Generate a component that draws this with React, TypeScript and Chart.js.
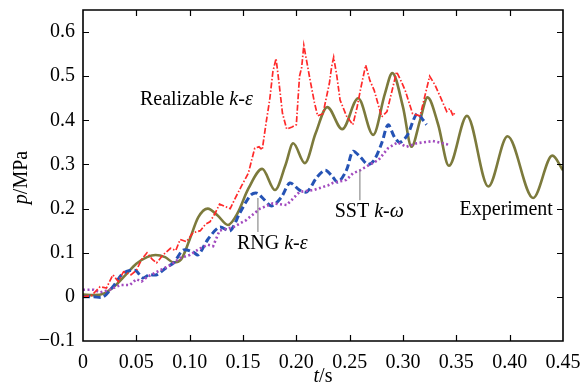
import React, { useEffect, useRef } from 'react';
import { Chart, registerables } from 'chart.js';

Chart.register(...registerables);

const xTicks = [0, 0.05, 0.1, 0.15, 0.2, 0.25, 0.3, 0.35, 0.4, 0.45];
const yTicks = [-0.1, 0, 0.1, 0.2, 0.3, 0.4, 0.5, 0.6];

const expT = [0, 0.01, 0.02, 0.03, 0.04, 0.05, 0.06, 0.068, 0.077, 0.085, 0.092, 0.1, 0.108, 0.117, 0.126, 0.136, 0.145, 0.155, 0.168, 0.18, 0.19, 0.197, 0.208, 0.218, 0.229, 0.243, 0.258, 0.272, 0.283, 0.29, 0.3, 0.308, 0.316, 0.323, 0.333, 0.343, 0.36, 0.38, 0.398, 0.422, 0.44, 0.45];
const expP = [0.005, 0.004, 0.008, 0.025, 0.05, 0.075, 0.09, 0.095, 0.09, 0.078, 0.085, 0.13, 0.18, 0.2, 0.185, 0.163, 0.19, 0.245, 0.29, 0.242, 0.3, 0.348, 0.303, 0.37, 0.43, 0.38, 0.45, 0.367, 0.46, 0.507, 0.43, 0.34, 0.4, 0.452, 0.39, 0.297, 0.41, 0.25, 0.364, 0.224, 0.32, 0.287];

const rkeT = [0, 0.008, 0.016, 0.022, 0.028, 0.033, 0.038, 0.045, 0.05, 0.055, 0.06, 0.065, 0.069, 0.075, 0.082, 0.087, 0.091, 0.097, 0.103, 0.11, 0.115, 0.119, 0.124, 0.128, 0.133, 0.138, 0.143, 0.149, 0.155, 0.161, 0.165, 0.168, 0.172, 0.175, 0.178, 0.181, 0.184, 0.187, 0.191, 0.196, 0.2, 0.203, 0.205, 0.207, 0.21, 0.213, 0.217, 0.22, 0.225, 0.228, 0.231, 0.233, 0.235, 0.238, 0.241, 0.247, 0.253, 0.257, 0.26, 0.265, 0.269, 0.273, 0.28, 0.285, 0.29, 0.294, 0.298, 0.302, 0.309, 0.316, 0.321, 0.325, 0.33, 0.335, 0.341, 0.344, 0.347, 0.349];
const rkeP = [0, 0.003, 0.023, 0.02, 0.05, 0.035, 0.057, 0.05, 0.06, 0.085, 0.1, 0.085, 0.077, 0.095, 0.11, 0.105, 0.13, 0.125, 0.145, 0.15, 0.165, 0.17, 0.19, 0.21, 0.205, 0.2, 0.225, 0.253, 0.28, 0.337, 0.34, 0.333, 0.4, 0.446, 0.51, 0.54, 0.48, 0.416, 0.38, 0.385, 0.39, 0.5, 0.52, 0.57, 0.53, 0.49, 0.44, 0.41, 0.415, 0.45, 0.484, 0.52, 0.543, 0.5, 0.446, 0.41, 0.39, 0.43, 0.468, 0.525, 0.49, 0.468, 0.408, 0.42, 0.47, 0.51, 0.49, 0.468, 0.415, 0.41, 0.46, 0.5, 0.48, 0.453, 0.42, 0.427, 0.41, 0.42];

const rngT = [0, 0.01, 0.019, 0.028, 0.038, 0.049, 0.056, 0.062, 0.069, 0.079, 0.085, 0.094, 0.103, 0.108, 0.117, 0.128, 0.138, 0.147, 0.157, 0.163, 0.17, 0.177, 0.186, 0.194, 0.203, 0.21, 0.219, 0.227, 0.233, 0.239, 0.247, 0.253, 0.26, 0.267, 0.273, 0.28, 0.286, 0.292, 0.297, 0.304, 0.313, 0.319, 0.322];
const rngP = [0, 0, 0, 0.023, 0.054, 0.06, 0.043, 0.05, 0.05, 0.068, 0.077, 0.106, 0.102, 0.095, 0.13, 0.158, 0.15, 0.19, 0.23, 0.235, 0.22, 0.206, 0.226, 0.258, 0.242, 0.238, 0.27, 0.287, 0.275, 0.26, 0.287, 0.33, 0.317, 0.3, 0.31, 0.348, 0.39, 0.362, 0.35, 0.366, 0.415, 0.4, 0.39];

const sstT = [0, 0.01, 0.016, 0.025, 0.035, 0.044, 0.05, 0.055, 0.06, 0.072, 0.082, 0.091, 0.1, 0.11, 0.117, 0.122, 0.128, 0.141, 0.153, 0.166, 0.178, 0.191, 0.203, 0.216, 0.23, 0.234, 0.247, 0.253, 0.26, 0.269, 0.277, 0.286, 0.295, 0.303, 0.313, 0.328, 0.341, 0.344];
const sstP = [0.016, 0.016, 0.01, 0.016, 0.027, 0.027, 0.04, 0.035, 0.045, 0.06, 0.072, 0.088, 0.095, 0.11, 0.118, 0.115, 0.15, 0.158, 0.174, 0.2, 0.212, 0.208, 0.238, 0.242, 0.253, 0.258, 0.265, 0.28, 0.287, 0.3, 0.31, 0.337, 0.35, 0.34, 0.348, 0.353, 0.346, 0.342];

const FONT = 'Liberation Serif';
const FS = 20;

type Part = { t: string; i?: boolean };

function drawRich(ctx: CanvasRenderingContext2D, parts: Part[], x: number, y: number, align: 'left' | 'center' | 'right') {
  const widths = parts.map((p) => {
    ctx.font = `${p.i ? 'italic ' : ''}${FS}px "${FONT}"`;
    return ctx.measureText(p.t).width;
  });
  const total = widths.reduce((a, b) => a + b, 0);
  let cx = align === 'left' ? x : align === 'center' ? x - total / 2 : x - total;
  ctx.textAlign = 'left';
  parts.forEach((p, k) => {
    ctx.font = `${p.i ? 'italic ' : ''}${FS}px "${FONT}"`;
    ctx.fillText(p.t, cx, y);
    cx += widths[k];
  });
}

export default function App() {
  const ref = useRef<HTMLCanvasElement>(null);
  useEffect(() => {
    if (!ref.current) return;
    const pts = (ts: number[], ps: number[]) => ts.map((t, i) => ({ x: t, y: ps[i] }));
    const overlay = {
      id: 'overlay',
      afterDraw(chart: any) {
        const ctx: CanvasRenderingContext2D = chart.ctx;
        const x = chart.scales.x;
        const y = chart.scales.y;
        const L0 = x.getPixelForValue(0);
        const R0 = x.getPixelForValue(0.45);
        const T0 = y.getPixelForValue(0.65);
        const B0 = y.getPixelForValue(-0.1);
        ctx.save();
        ctx.setLineDash([]);
        ctx.globalAlpha = 1;
        ctx.globalCompositeOperation = 'source-over';
        ctx.strokeStyle = 'rgb(0,0,0)';
        ctx.lineWidth = 1.6;
        ctx.beginPath();
        ctx.moveTo(L0, T0);
        ctx.lineTo(R0, T0);
        ctx.lineTo(R0, B0);
        ctx.lineTo(L0, B0);
        ctx.closePath();
        ctx.stroke();
        ctx.lineWidth = 1.2;
        const L = 6;
        ctx.beginPath();
        xTicks.forEach((v) => {
          if (v <= 0 || v >= 0.45) return;
          const px = Math.round(x.getPixelForValue(v)) + 0.5;
          ctx.moveTo(px, B0);
          ctx.lineTo(px, B0 - L);
          ctx.moveTo(px, T0);
          ctx.lineTo(px, T0 + L);
        });
        yTicks.forEach((v) => {
          if (v <= -0.1) return;
          const py = Math.round(y.getPixelForValue(v)) + 0.5;
          ctx.moveTo(L0, py);
          ctx.lineTo(L0 + L, py);
          ctx.moveTo(R0, py);
          ctx.lineTo(R0 - L, py);
        });
        ctx.stroke();
        // leader lines
        ctx.strokeStyle = '#777777';
        ctx.lineWidth = 1;
        ctx.beginPath();
        ctx.moveTo(x.getPixelForValue(0.164), y.getPixelForValue(0.224));
        ctx.lineTo(x.getPixelForValue(0.164), y.getPixelForValue(0.147));
        ctx.moveTo(x.getPixelForValue(0.2596), y.getPixelForValue(0.287));
        ctx.lineTo(x.getPixelForValue(0.2596), y.getPixelForValue(0.219));
        ctx.stroke();
        // annotations
        ctx.fillStyle = '#000000';
        ctx.textBaseline = 'alphabetic';
        drawRich(ctx, [{ t: 'Realizable ' }, { t: 'k', i: true }, { t: '-' }, { t: 'ε', i: true }], x.getPixelForValue(0.0534), y.getPixelForValue(0.434), 'left');
        drawRich(ctx, [{ t: 'RNG ' }, { t: 'k', i: true }, { t: '-' }, { t: 'ε', i: true }], x.getPixelForValue(0.1443), y.getPixelForValue(0.109), 'left');
        drawRich(ctx, [{ t: 'SST ' }, { t: 'k', i: true }, { t: '-' }, { t: 'ω', i: true }], x.getPixelForValue(0.236), y.getPixelForValue(0.181), 'left');
        drawRich(ctx, [{ t: 'Experiment' }], x.getPixelForValue(0.4405), y.getPixelForValue(0.186), 'right');
        // axis titles
        ctx.textBaseline = 'middle';
        drawRich(ctx, [{ t: 't', i: true }, { t: '/s' }], (L0 + R0) / 2, 377, 'center');
        ctx.translate(22, (T0 + B0) / 2 + 2);
        ctx.rotate(-Math.PI / 2);
        drawRich(ctx, [{ t: 'p', i: true }, { t: '/MPa' }], 0, 0, 'center');
        ctx.restore();
      },
    };
    const chart = new Chart(ref.current, {
      type: 'line',
      data: {
        datasets: [
          { label: 'Realizable k-ε', data: pts(rkeT, rkeP), borderColor: '#ff2a2a', borderWidth: 1.7, borderDash: [6, 2, 1.5, 2], pointRadius: 0, tension: 0 },
          { label: 'SST k-ω', data: pts(sstT, sstP), borderColor: '#a24bbf', borderWidth: 2.6, borderDash: [2, 2.5], borderCapStyle: 'butt', pointRadius: 0, tension: 0 },
          { label: 'RNG k-ε', data: pts(rngT, rngP), borderColor: '#2553b5', borderWidth: 3, borderDash: [7, 3.5], pointRadius: 0, tension: 0.3 },
          { label: 'Experiment', data: pts(expT, expP), borderColor: '#7c7a3c', borderWidth: 2.6, pointRadius: 0, cubicInterpolationMode: 'monotone' },
        ],
      },
      options: {
        responsive: false,
        animation: false,
        devicePixelRatio: 1,
        layout: { padding: { left: 0, top: 10, right: 18, bottom: 0 } },
        plugins: { legend: { display: false }, tooltip: { enabled: false } },
        scales: {
          x: {
            type: 'linear',
            min: 0,
            max: 0.45,
            afterBuildTicks: (s: any) => { s.ticks = xTicks.map((v) => ({ value: v })); },
            afterFit: (s: any) => { s.height = 46; s.paddingLeft = 0; s.paddingRight = 0; },
            grid: { display: false, drawTicks: false },
            border: { display: false },
            ticks: {
              color: '#000',
              font: { family: FONT, size: FS },
              padding: 10,
              maxRotation: 0,
              autoSkip: false,
              callback: (v: any) => (Math.abs(v) < 1e-9 ? '0' : Number(v).toFixed(2)),
            },
          },
          y: {
            type: 'linear',
            min: -0.1,
            max: 0.65,
            afterBuildTicks: (s: any) => { s.ticks = yTicks.map((v) => ({ value: v })); },
            afterFit: (s: any) => { s.width = 83; s.paddingTop = 0; s.paddingBottom = 0; },
            grid: { display: false, drawTicks: false },
            border: { display: false },
            ticks: {
              color: '#000',
              font: { family: FONT, size: FS },
              padding: 8,
              autoSkip: false,
              callback: (v: any) => (Math.abs(v) < 1e-9 ? '0' : v < 0 ? '−' + Math.abs(v).toFixed(1) : Number(v).toFixed(1)),
            },
          },
        },
      },
      plugins: [overlay],
    } as any);
    return () => chart.destroy();
  }, []);
  return (
    <div style={{ position: 'fixed', left: 0, top: 0, width: 581, height: 387, background: '#fff' }}>
      <canvas ref={ref} width={581} height={387} style={{ display: 'block' }} />
    </div>
  );
}
